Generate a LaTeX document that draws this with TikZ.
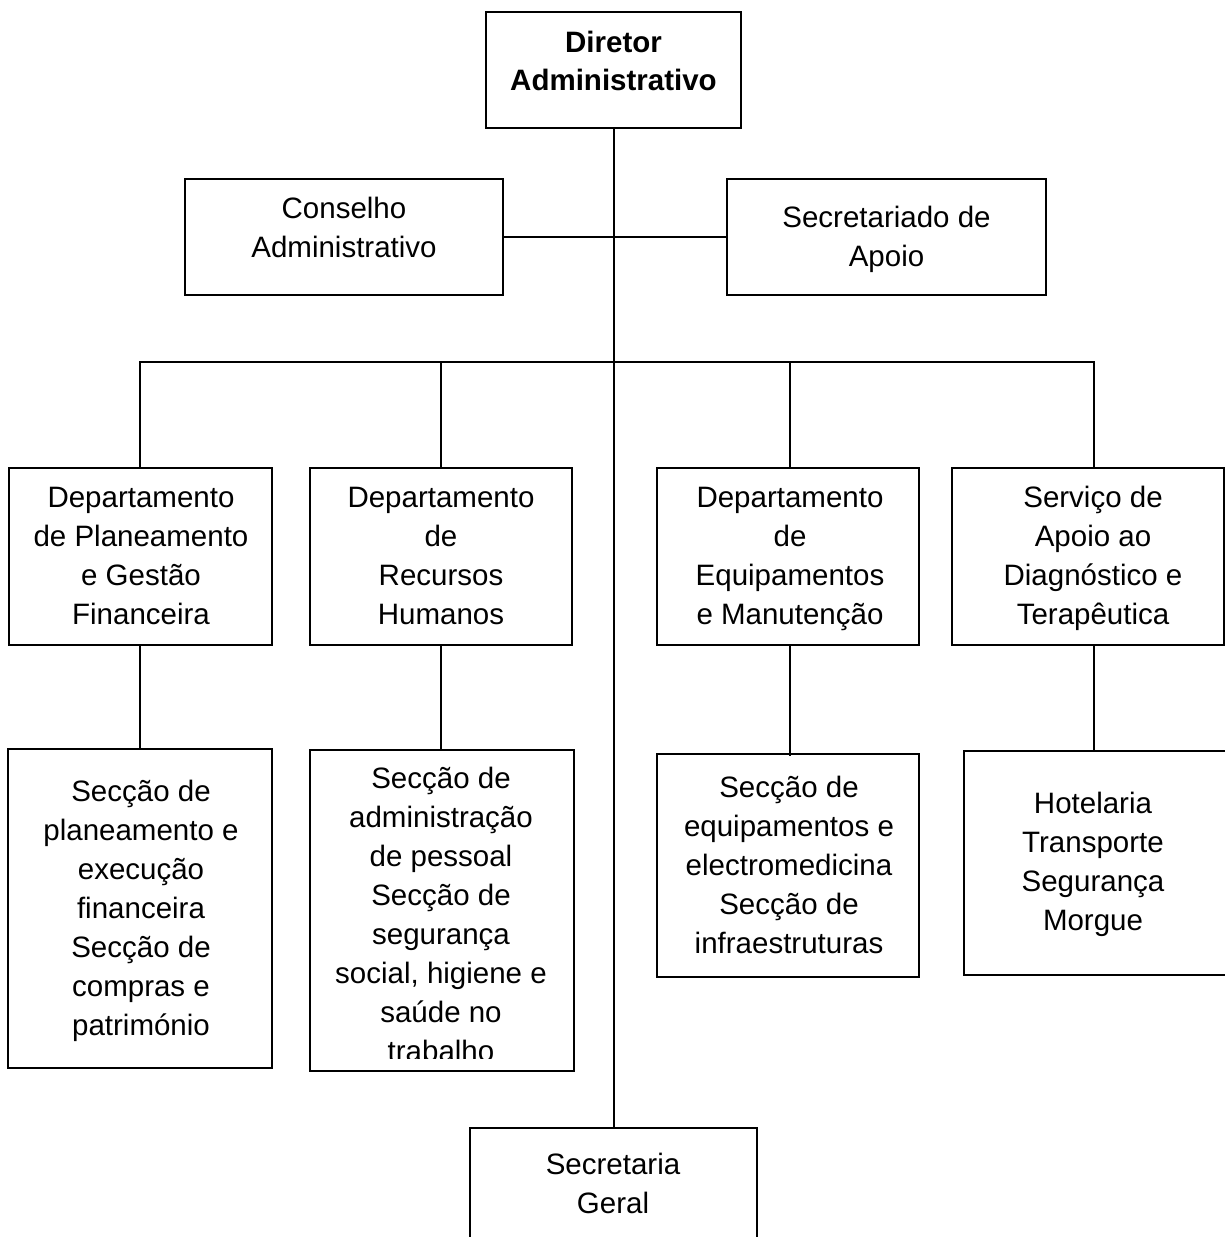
\documentclass[tikz,border=0pt]{standalone}
\usepackage{fontspec}
\setmainfont{Liberation Sans}
\begin{document}
\begin{tikzpicture}[x=1pt,y=-1pt,
  box/.style={draw=black,line width=1.8pt,rectangle,inner sep=0pt,fill=none},
  label/.style={align=center,inner sep=0pt,font=\fontsize{29.5}{39}\selectfont},
  link/.style={draw=black,line width=1.8pt}]
\clip (0,0) rectangle (1225,1237);
\fill[white] (0,0) rectangle (1225,1237);

% boxes
\node[box,minimum width=255,minimum height=116] (dir) at (613.5,70) {};
\node[box,minimum width=318,minimum height=116] (cons) at (344,237) {};
\node[box,minimum width=319,minimum height=116] (secap) at (886.5,237) {};
\node[box,minimum width=263,minimum height=177] (d1) at (140.5,556.5) {};
\node[box,minimum width=262,minimum height=177] (d2) at (441,556.5) {};
\node[box,minimum width=262,minimum height=177] (d3) at (788,556.5) {};
\node[box,minimum width=272,minimum height=177] (d4) at (1088,556.5) {};
\node[box,minimum width=264,minimum height=319] (s1) at (140,908.5) {};
\node[box,minimum width=264,minimum height=321] (s2) at (442,910.5) {};
\node[box,minimum width=262,minimum height=223] (s3) at (788,865.5) {};
\node[box,minimum width=266,minimum height=224] (s4) at (1097,863) {};
\node[box,minimum width=287,minimum height=132] (sg) at (613.5,1194) {};

% texts
\node[label,font=\fontsize{29.5}{38}\selectfont\bfseries] (tdir) at (613.5,61) {Diretor\\Administrativo};
\node[label] (tcons) at (344,227) {Conselho\\Administrativo};
\node[label] (tsecap) at (886.5,239) {Secretariado de\\Apoio};
\node[label] (td1) at (141,555.5) {Departamento\\de Planeamento\\e Gestão\\Financeira};
\node[label] (td2) at (441,555.5) {Departamento\\de\\Recursos\\Humanos};
\node[label] (td3) at (790,558.5) {Departamento\\de\\Equipamentos\\e Manutenção};
\node[label] (td4) at (1093,558.5) {Serviço de\\Apoio ao\\Diagnóstico e\\Terapêutica};
\node[label] (ts1) at (141,911) {Secção de\\planeamento e\\execução\\financeira\\Secção de\\compras e\\património};
\begin{scope}
  \clip (311,751) rectangle (573,1058);
  \node[label] (ts2) at (441,914.5) {Secção de\\administração\\de pessoal\\Secção de\\segurança\\social, higiene e\\saúde no\\trabalho};
\end{scope}
\node[label] (ts3) at (789,864.5) {Secção de\\equipamentos e\\electromedicina\\Secção de\\infraestruturas};
\node[label] (ts4) at (1093,864.5) {Hotelaria\\Transporte\\Segurança\\Morgue};
\node[label] (tsg) at (613,1183.5) {Secretaria\\Geral};

% connectors
\coordinate (bus) at (614,362);
\draw[link] ([xshift=0.5]dir.south) -- ([xshift=0.5]sg.north);
\draw[link] (cons.east) -- (secap.west);
\draw[link] ([xshift=-0.5]d1.north) |- (bus) -| ([xshift=6]d4.north);
\draw[link] (d2.north) -- (d2.north |- bus);
\draw[link] ([xshift=2]d3.north) -- ([xshift=2]d3.north |- bus);
\draw[link] ([xshift=-0.5]d1.south) -- ([xshift=-0.5]d1.south |- s1.north);
\draw[link] (d2.south) -- (d2.south |- s2.north);
\draw[link] ([xshift=2]d3.south) -- ([xshift=2,yshift=-3]d3.south |- s3.north);
\draw[link] ([xshift=6]d4.south) -- ([xshift=6]d4.south |- s4.north);
\end{tikzpicture}
\end{document}
